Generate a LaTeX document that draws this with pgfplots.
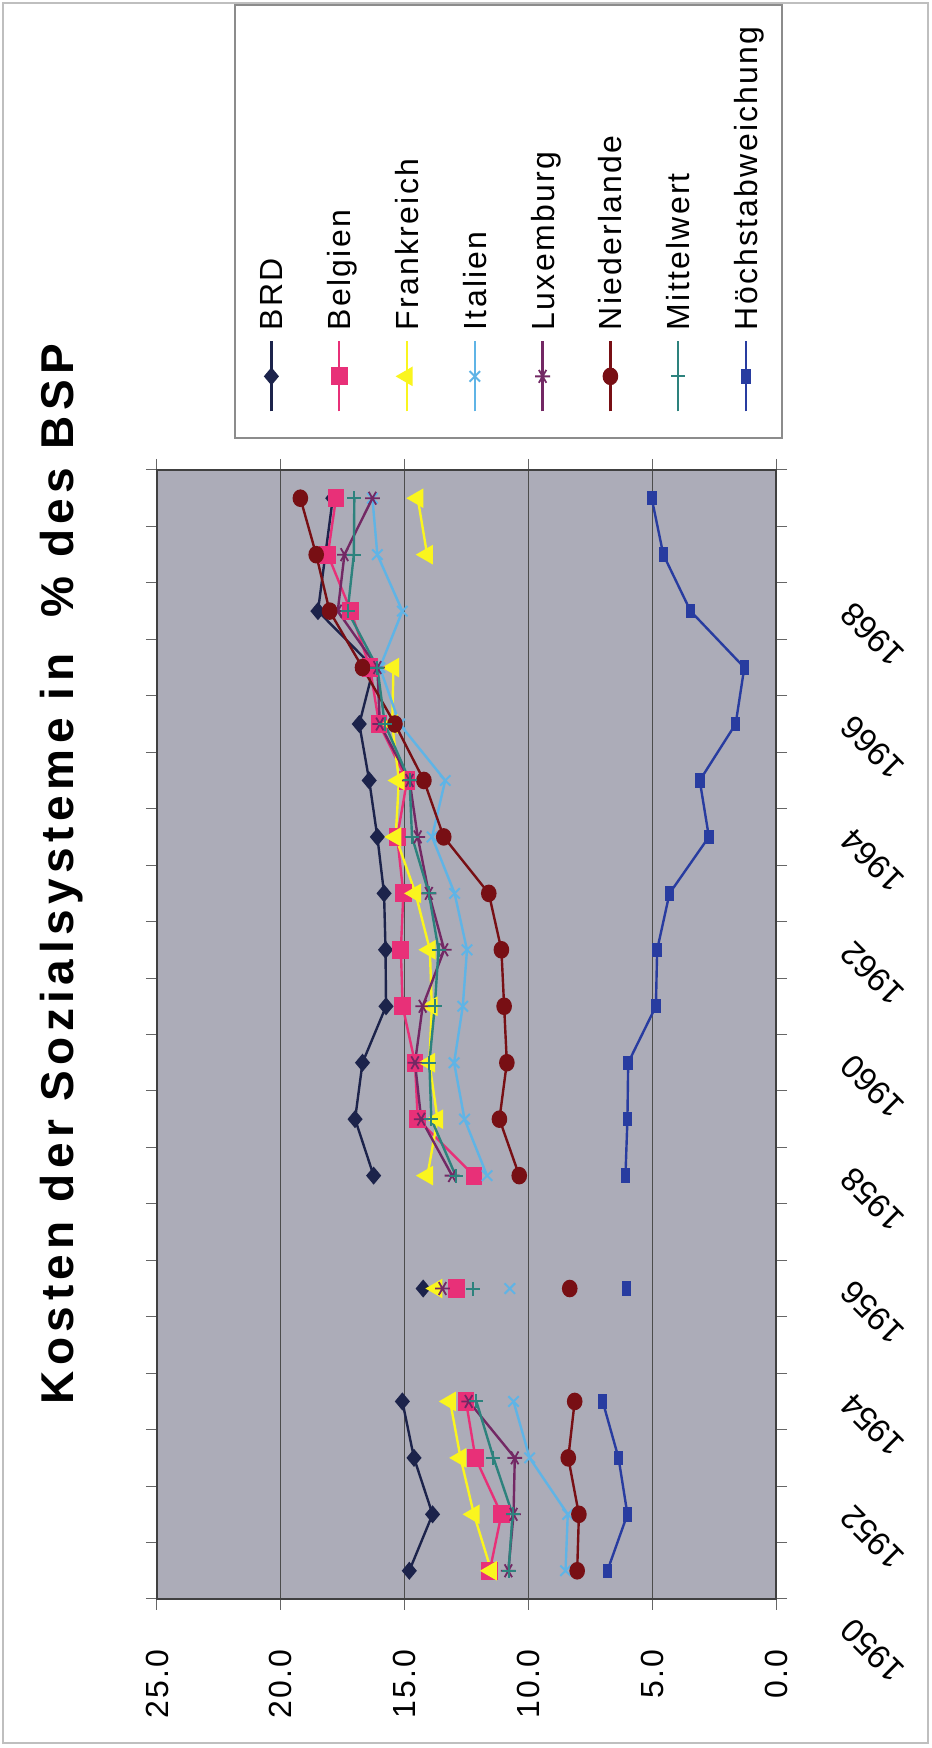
\documentclass[border=0pt]{standalone}
\usepackage{fontspec}
\setmainfont{Liberation Sans}[LetterSpace=7]
\newfontfamily\titlefont{Liberation Sans}[LetterSpace=12]
\newfontfamily\yearfont{Liberation Sans}
\usepackage{graphicx}
\usepackage{pgfplots}
\usepackage{pgfplotstable}
\pgfplotsset{compat=1.18}

\definecolor{plotgray}{RGB}{172,172,184}
\definecolor{cBRD}{RGB}{28,35,75}
\definecolor{cBEL}{RGB}{232,48,120}
\definecolor{cFRA}{RGB}{250,245,30}
\definecolor{cITA}{RGB}{95,180,230}
\definecolor{cLUX}{RGB}{115,40,100}
\definecolor{cNED}{RGB}{120,15,20}
\definecolor{cMIT}{RGB}{45,130,125}
\definecolor{cHOE}{RGB}{40,60,160}

% Kosten der Sozialsysteme in % des BSP, nan = kein Wert
\pgfplotstableread{
year brd   bel   fra   ita   lux   ned   mit   hoe
1950 14.81 11.56 11.50 8.50  10.81 8.03  10.80 6.81
1951 13.87 11.09 12.20 8.41  10.60 7.96  10.64 6.00
1952 14.62 12.14 12.74 9.95  10.55 8.39  11.41 6.36
1953 15.09 12.52 13.16 10.60 12.41 8.13  12.10 7.00
1954 nan   nan   nan   nan   nan   nan   nan   nan
1955 14.25 12.92 13.70 10.75 13.47 8.33  12.25 6.03
1956 nan   nan   nan   nan   nan   nan   nan   nan
1957 16.25 12.20 14.08 11.67 13.08 10.37 12.94 6.08
1958 17.00 14.47 13.67 12.58 14.33 11.17 13.92 6.00
1959 16.70 14.58 14.00 13.00 14.58 10.87 14.00 5.97
1960 15.75 15.08 13.90 12.65 14.27 10.98 13.78 4.85
1961 15.77 15.15 13.98 12.48 13.40 11.09 13.63 4.80
1962 15.83 15.05 14.56 12.98 14.02 11.60 14.02 4.30
1963 16.10 15.30 15.36 13.89 14.47 13.42 14.70 2.71
1964 16.43 14.90 15.23 13.36 14.80 14.22 14.80 3.08
1965 16.83 16.03 15.50 15.20 16.00 15.39 15.80 1.63
1966 16.25 16.40 15.45 16.00 16.10 16.70 16.10 1.28
1967 18.50 17.17 nan   15.09 17.70 18.03 17.30 3.45
1968 18.20 18.10 14.09 16.10 17.43 18.57 17.05 4.55
1969 17.90 17.77 14.47 16.30 16.30 19.21 17.03 5.02
}\sozial

\begin{document}
\rotatebox{90}{%
\begin{tikzpicture}
\path[use as bounding box] (0,0) rectangle (874pt,465.5pt);
\draw[black!25, line width=0.8pt] (2.5pt,1.5pt) rectangle (872.5pt,464pt);
\draw[black!45, line width=0.6pt, fill=white] (655pt,74.5pt) rectangle (871.5pt,348pt);
\node[font=\titlefont\bfseries\fontsize{23}{26}\selectfont, anchor=base, inner sep=0pt]
  at (437pt,428.9pt) {Kosten der Sozialsysteme in\ \ \% des BSP};
\begin{axis}[
    at={(74.5pt,77.5pt)}, anchor=south west,
    scale only axis, width=564.5pt, height=309.5pt,
    xmin=1950, xmax=1970, ymin=0, ymax=25,
    xtick={1950,1952,...,1968},
    xticklabels={1950,1952,1954,1956,1958,1960,1962,1964,1966,1968},
    minor xtick={1951,1953,...,1969,1970},
    ytick={0,5,...,25},
    /pgf/number format/assume math mode=true,
    y tick label style={/pgf/number format/fixed, /pgf/number format/fixed zerofill,
      /pgf/number format/precision=1},
    ticklabel style={font=\fontsize{16}{19}\selectfont, inner sep=0pt},
    yticklabel style={anchor=east, xshift=-19.5pt},
    xticklabel style={font=\yearfont\fontsize{16.5}{19}\selectfont,
      xshift=-12.8pt, yshift=-29.6pt, rotate=45, anchor=east},
    tick align=outside, major tick length=5.5pt, minor tick length=5.5pt,
    tick style={black!60, line width=0.5pt},
    ymajorgrids, major grid style={black!70, line width=0.5pt},
    axis background/.style={fill=plotgray},
    axis line style={black!75, line width=1pt},
    unbounded coords=jump,
    legend image code/.code={\draw[mark repeat=2, mark phase=2, #1]
      plot coordinates {(0pt,0pt) (17.5pt,0pt) (35pt,0pt)};},
    legend style={at={(1.0505,0.8344)}, anchor=north west, draw=none, fill=none,
      inner sep=0pt, row sep=22.4pt, cells={anchor=west},
      nodes={font=\fontsize{16}{19}\selectfont, inner sep=0pt, text height=11.5pt, text depth=0pt},
      /tikz/every odd column/.append style={column sep=5pt}},
  ]
  \addplot[color=cBRD, line width=1.2pt, mark=diamond*, mark size=3pt,
    mark options={solid, fill=cBRD, xscale=1.6}] table[x expr=\thisrow{year}+0.5, y=brd]{\sozial};
  \addplot[color=cBEL, line width=1.2pt, mark=square*, mark size=3.6pt,
    mark options={solid, fill=cBEL, xscale=1.1}] table[x expr=\thisrow{year}+0.5, y=bel]{\sozial};
  \addplot[color=cFRA, line width=1.2pt, mark=triangle*, mark size=4.5pt,
    mark options={solid, fill=cFRA}] table[x expr=\thisrow{year}+0.5, y=fra]{\sozial};
  \addplot[color=cITA, line width=1.2pt, mark=x, mark size=3.7pt,
    mark options={solid, line width=1pt}] table[x expr=\thisrow{year}+0.5, y=ita]{\sozial};
  \addplot[color=cLUX, line width=1.2pt, mark=asterisk, mark size=3.7pt,
    mark options={solid, line width=0.9pt}] table[x expr=\thisrow{year}+0.5, y=lux]{\sozial};
  \addplot[color=cNED, line width=1.2pt, mark=*, mark size=3.3pt,
    mark options={solid, fill=cNED, xscale=1.15}] table[x expr=\thisrow{year}+0.5, y=ned]{\sozial};
  \addplot[color=cMIT, line width=1.2pt, mark=+, mark size=3.5pt,
    mark options={solid, line width=1pt}] table[x expr=\thisrow{year}+0.5, y=mit]{\sozial};
  \addplot[color=cHOE, line width=1.2pt, mark=square*, mark size=3pt,
    mark options={solid, fill=cHOE, yscale=0.6}] table[x expr=\thisrow{year}+0.5, y=hoe]{\sozial};
  \legend{BRD, Belgien, Frankreich, Italien, Luxemburg, Niederlande, Mittelwert, Höchstabweichung}
\end{axis}
\end{tikzpicture}}
\end{document}
